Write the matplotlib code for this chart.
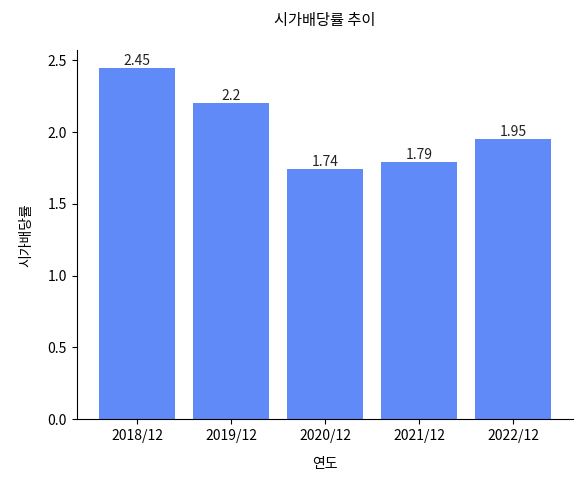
import matplotlib.pyplot as plt

plt.rcParams['font.family'] = ['Noto Sans CJK KR', 'DejaVu Sans']

years = ['2018/12', '2019/12', '2020/12', '2021/12', '2022/12']
dividend_yield = [2.45, 2.2, 1.74, 1.79, 1.95]

fig = plt.figure(figsize=(5.82, 4.79), dpi=100)
ax = fig.add_axes([0.132, 0.125, 0.853, 0.77])

bars = ax.bar(years, dividend_yield, color='#5f8af7', width=0.8)
for b, v in zip(bars, dividend_yield):
    ax.text(b.get_x() + b.get_width() / 2, v, str(v), ha='center', va='bottom', fontsize=10, color='#222222')

ax.set_title('시가배당률 추이', fontsize=11, pad=18)
ax.set_xlabel('연도', fontsize=10, labelpad=10)
ax.set_ylabel('시가배당률', fontsize=10, labelpad=10)
ax.set_ylim(0, 2.57)
ax.set_yticks([0.0, 0.5, 1.0, 1.5, 2.0, 2.5])
ax.tick_params(labelsize=10)
ax.spines['top'].set_visible(False)
ax.spines['right'].set_visible(False)

fig.savefig('out.png', dpi=100)
